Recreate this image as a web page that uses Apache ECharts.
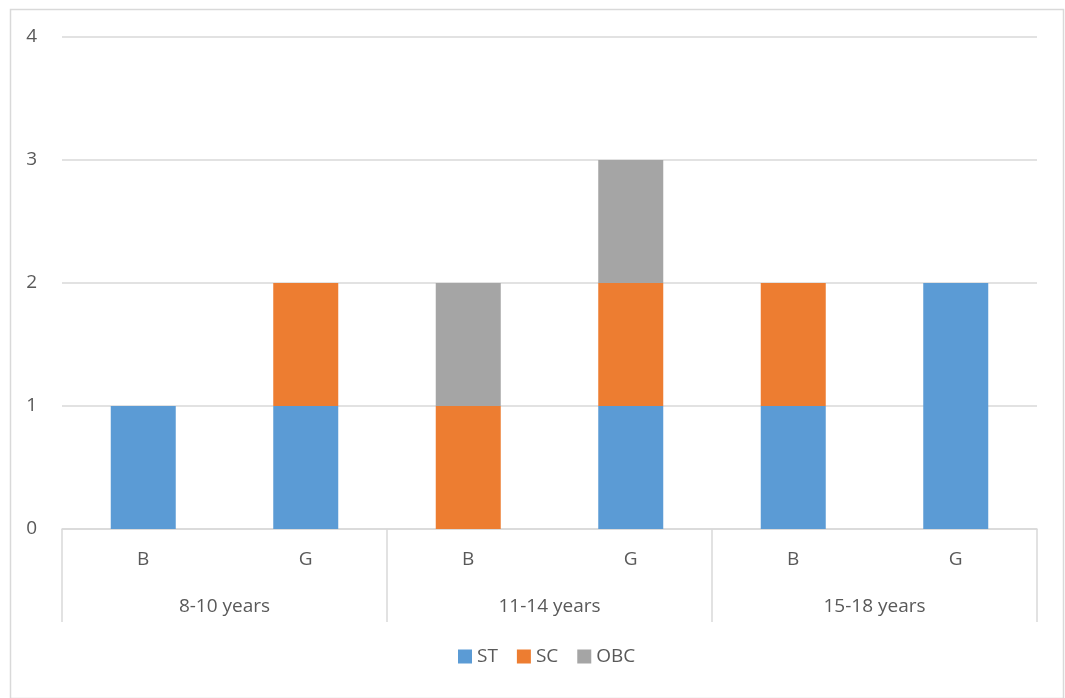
<!DOCTYPE html>
<html>
<head>
<meta charset="utf-8">
<script src="https://cdn.jsdelivr.net/npm/echarts@6/dist/echarts.min.js"></script>
<style>html,body{margin:0;padding:0;background:#fff}#c{width:1065px;height:698px}</style>
</head>
<body>
<div id="c"></div>
<script>
const subCategories = ['B', 'G', 'B', 'G', 'B', 'G'];
const groupCategories = ['8-10 years', '11-14 years', '15-18 years'];
const seriesNames = ['ST', 'SC', 'OBC'];
const stValues = [1, 1, 0, 1, 1, 2];
const scValues = [0, 1, 1, 1, 1, 0];
const obcValues = [0, 0, 1, 1, 0, 0];
const yTicks = [0, 1, 2, 3, 4];

const colors = ['#5b9bd5', '#ed7d31', '#a5a5a5'];
const font = '"Open Sans", "Liberation Sans", sans-serif';
const textColor = '#595959';
const lineColor = '#d9d9d9';

const chart = echarts.init(document.getElementById('c'));
const valuesBySeries = [stValues, scValues, obcValues];

chart.setOption({
  animation: false,
  color: colors,
  textStyle: { fontFamily: font },
  graphic: [{
    type: 'rect', left: 8, top: 7,
    shape: { width: 1053, height: 689 },
    style: { fill: 'none', stroke: lineColor, lineWidth: 1.5 }
  }],
  grid: { left: 62, right: 28, top: 37, bottom: 169, containLabel: false },
  legend: {
    bottom: 27, left: 453,
    itemWidth: 14, itemHeight: 14, itemGap: 19,
    icon: 'rect',
    textStyle: { fontFamily: font, fontSize: 19, color: textColor },
    data: seriesNames
  },
  xAxis: [{
    type: 'category',
    data: subCategories,
    position: 'bottom',
    axisLine: { show: true, lineStyle: { color: lineColor, width: 1.5 } },
    axisTick: { show: false },
    axisLabel: { fontFamily: font, fontSize: 19, color: textColor, margin: 21 }
  }, {
    type: 'category',
    data: groupCategories,
    position: 'bottom',
    axisLine: { show: false },
    axisTick: { show: true, length: 93, interval: 0, lineStyle: { color: lineColor, width: 1.5 } },
    axisLabel: { fontFamily: font, fontSize: 19, color: textColor, margin: 68 }
  }],
  yAxis: {
    type: 'value', min: yTicks[0], max: yTicks[yTicks.length - 1], interval: 1,
    axisLine: { show: false }, axisTick: { show: false },
    splitLine: { lineStyle: { color: lineColor, width: 1.5 } },
    axisLabel: { fontFamily: font, fontSize: 19, color: textColor, margin: 25 }
  },
  series: seriesNames.map((name, i) => ({
    name, type: 'bar', stack: 'total', xAxisIndex: 0,
    barWidth: 65,
    data: valuesBySeries[i]
  }))
});
</script>
</body>
</html>
